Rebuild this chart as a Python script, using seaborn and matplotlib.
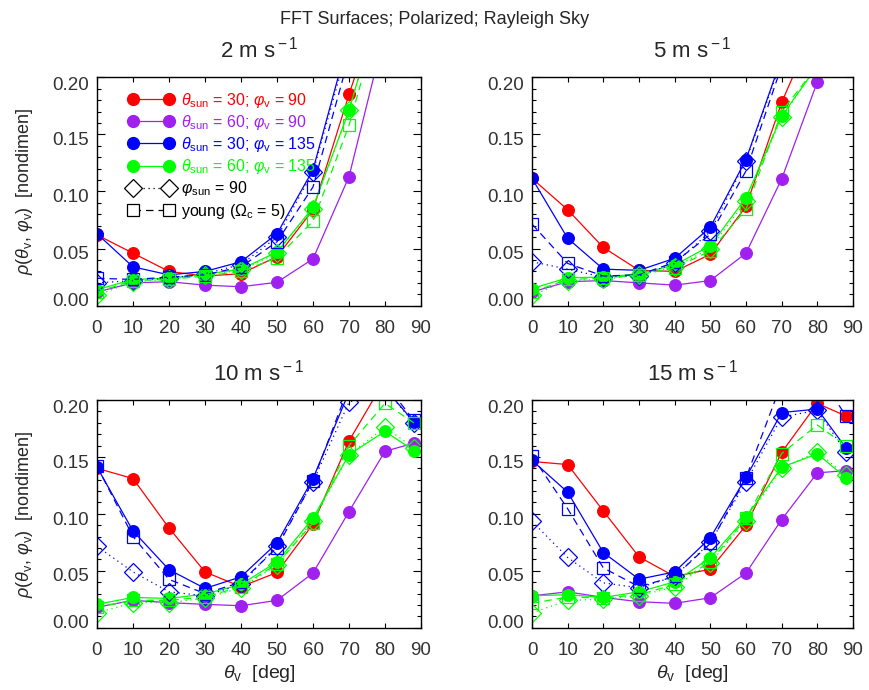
import numpy as np
import matplotlib
matplotlib.use("Agg")
import matplotlib.pyplot as plt
import matplotlib.transforms as mtransforms
from matplotlib.lines import Line2D
from matplotlib.ticker import MultipleLocator
import seaborn as sns

nan = np.nan

# viewing zenith angles (deg)
view_zenith = [0, 10, 20, 30, 40, 50, 60, 70, 80, 88]

# rho for each wind speed; keys: sun zenith / view azimuth cases and variants
rho_2ms = {
    "red":        [0.062, 0.046, 0.030, 0.026, 0.028, 0.043, 0.084, 0.185, 0.280, nan],
    "purple":     [0.012, 0.020, 0.021, 0.018, 0.0166, 0.0205, 0.041, 0.113, 0.240, nan],
    "blue":       [0.063, 0.034, 0.027, 0.030, 0.0385, 0.063, 0.119, 0.235, nan, nan],
    "green":      [0.014, 0.023, 0.024, 0.0275, 0.032, 0.047, 0.086, 0.171, 0.280, nan],
    "blue_sun90": [0.020, 0.022, 0.024, 0.028, 0.036, 0.060, 0.117, 0.230, nan, nan],
    "green_sun90": [0.009, 0.021, 0.023, 0.027, 0.031, 0.046, 0.085, 0.171, 0.280, nan],
    "blue_young": [0.024, 0.023, 0.025, 0.027, 0.034, 0.056, 0.104, 0.218, nan, nan],
    "green_young": [0.012, 0.022, 0.023, 0.026, 0.030, 0.042, 0.074, 0.158, 0.270, nan],
}
rho_5ms = {
    "red":        [0.1115, 0.084, 0.051, 0.031, 0.030, 0.045, 0.087, 0.178, 0.250, nan],
    "purple":     [0.012, 0.021, 0.022, 0.020, 0.018, 0.022, 0.046, 0.111, 0.196, nan],
    "blue":       [0.1115, 0.059, 0.032, 0.031, 0.0415, 0.0687, 0.128, 0.217, nan, nan],
    "green":      [0.015, 0.0245, 0.025, 0.028, 0.0356, 0.0525, 0.0946, 0.166, 0.210, nan],
    "blue_sun90": [0.0385, 0.032, 0.025, 0.026, 0.037, 0.065, 0.127, 0.215, nan, nan],
    "green_sun90": [0.009, 0.022, 0.023, 0.027, 0.034, 0.050, 0.092, 0.165, 0.210, nan],
    "blue_young": [0.0715, 0.037, 0.026, 0.027, 0.038, 0.0625, 0.118, 0.210, nan, nan],
    "green_young": [0.012, 0.023, 0.024, 0.027, 0.033, 0.048, 0.0844, 0.170, 0.210, nan],
}
rho_10ms = {
    "red":        [0.140, 0.131, 0.0876, 0.049, 0.036, 0.0485, 0.091, 0.164, 0.218, 0.230],
    "purple":     [0.018, 0.024, 0.022, 0.0205, 0.0193, 0.024, 0.048, 0.102, 0.155, 0.162],
    "blue":       [0.141, 0.085, 0.051, 0.0345, 0.0447, 0.0744, 0.131, 0.207, 0.210, 0.181],
    "green":      [0.0205, 0.0266, 0.0257, 0.0295, 0.038, 0.0578, 0.0963, 0.152, 0.1725, 0.1556],
    "blue_sun90": [0.0715, 0.049, 0.0315, 0.028, 0.038, 0.072, 0.128, 0.198, 0.210, 0.180],
    "green_sun90": [0.013, 0.022, 0.022, 0.026, 0.035, 0.055, 0.094, 0.152, 0.176, 0.158],
    "blue_young": [0.142, 0.080, 0.0424, 0.030, 0.040, 0.0704, 0.129, 0.212, 0.215, 0.182],
    "green_young": [0.018, 0.024, 0.024, 0.027, 0.036, 0.056, 0.092, 0.160, 0.197, 0.180],
}
rho_15ms = {
    "red":        [0.146, 0.1433, 0.1025, 0.0622, 0.045, 0.0514, 0.0899, 0.154, 0.197, 0.186],
    "purple":     [0.028, 0.0315, 0.0266, 0.0228, 0.0214, 0.0263, 0.048, 0.095, 0.136, 0.138],
    "blue":       [0.147, 0.119, 0.066, 0.0426, 0.049, 0.079, 0.132, 0.189, 0.192, 0.158],
    "green":      [0.028, 0.029, 0.0266, 0.0315, 0.0403, 0.0613, 0.097, 0.141, 0.1527, 0.1317],
    "blue_sun90": [0.0934, 0.0617, 0.0394, 0.035, 0.045, 0.075, 0.128, 0.185, 0.191, 0.154],
    "green_sun90": [0.013, 0.024, 0.025, 0.028, 0.036, 0.057, 0.094, 0.140, 0.1547, 0.1337],
    "blue_young": [0.151, 0.1045, 0.0525, 0.036, 0.045, 0.074, 0.1317, 0.215, 0.225, 0.186],
    "green_young": [0.0214, 0.027, 0.026, 0.029, 0.038, 0.058, 0.096, 0.153, 0.178, 0.160],
}

panel_titles = ["2 m s$^{\\rm -1}$", "5 m s$^{\\rm -1}$", "10 m s$^{\\rm -1}$", "15 m s$^{\\rm -1}$"]
panel_data = [rho_2ms, rho_5ms, rho_10ms, rho_15ms]

legend_labels = [
    "$\\theta_{\\rm sun}$ = 30; $\\varphi_{\\rm v}$ = 90",
    "$\\theta_{\\rm sun}$ = 60; $\\varphi_{\\rm v}$ = 90",
    "$\\theta_{\\rm sun}$ = 30; $\\varphi_{\\rm v}$ = 135",
    "$\\theta_{\\rm sun}$ = 60; $\\varphi_{\\rm v}$ = 135",
    "$\\varphi_{\\rm sun}$ = 90",
    "young ($\\Omega_{\\rm c}$ = 5)",
]

y_ticks = [0.00, 0.05, 0.10, 0.15, 0.20]
x_ticks = [0, 10, 20, 30, 40, 50, 60, 70, 80, 90]

sns.set_style("ticks")
plt.rcParams["font.family"] = ["Liberation Sans", "DejaVu Sans"]
plt.rcParams["mathtext.fontset"] = "custom"
plt.rcParams["mathtext.rm"] = "Liberation Sans"
plt.rcParams["mathtext.it"] = "Liberation Sans:italic"
plt.rcParams["mathtext.bf"] = "Liberation Sans:bold"

COLORS = {"red": "#ff0000", "purple": "#a020f0", "blue": "#0000ff", "green": "#00ff00"}
TICK_COLOR = "#333333"
DOTTED = (0, (1.0, 3.0))
DASHED = (0, (6.0, 4.0))

fig = plt.figure(figsize=(8.69, 6.9), dpi=100)
W, H = 869.0, 690.0
boxes = [
    (97, 77.3, 324, 228.4),
    (532, 77.3, 321, 228.4),
    (97, 400.0, 324, 227.7),
    (532, 400.0, 321, 227.7),
]
axes = [fig.add_axes([x / W, 1 - (y + h) / H, w / W, h / H]) for x, y, w, h in boxes]


def draw_series(ax, ys, color, marker, ls, filled):
    x = np.asarray(view_zenith, float)
    y = np.asarray(ys, float)
    ok = ~np.isnan(y)
    kw = dict(color=color, lw=0.9, linestyle=ls, marker=marker,
              markeredgecolor=color, clip_on=True)
    if filled:
        kw.update(markersize=8.5, markerfacecolor=color, markeredgewidth=0.8)
    else:
        kw.update(markersize=8.0 if marker == "s" else 9.0,
                  markerfacecolor="none", markeredgewidth=0.9)
    sns.lineplot(x=x[ok], y=y[ok], ax=ax, sort=False, estimator=None,
                 legend=False, **kw)


for i, (ax, data, title) in enumerate(zip(axes, panel_data, panel_titles)):
    for key in ["red", "purple", "blue", "green"]:
        draw_series(ax, data[key], COLORS[key], "o", "-", True)
    for key in ["blue", "green"]:
        draw_series(ax, data[key + "_sun90"], COLORS[key], "D", DOTTED, False)
    for key in ["blue", "green"]:
        draw_series(ax, data[key + "_young"], COLORS[key], "s", DASHED, False)

    ax.set_xlim(0, 90)
    ax.set_ylim(0, 0.20)
    ax.set_xticks(x_ticks)
    ax.set_xticklabels([str(t) for t in x_ticks])
    ax.set_yticks(y_ticks)
    ax.set_yticklabels([f"{t:.2f}" for t in y_ticks])
    ax.yaxis.set_minor_locator(MultipleLocator(0.01))
    ax.tick_params(axis="both", which="both", direction="in", top=True, right=True,
                   colors="black", labelcolor=TICK_COLOR, labelsize=13.5, width=0.8)
    ax.tick_params(axis="x", which="major", length=3.5, pad=10.5)
    ax.tick_params(axis="y", which="major", length=5.5, pad=6)
    ax.tick_params(axis="y", which="minor", length=3.0)
    for sp in ax.spines.values():
        sp.set_linewidth(1.0)
        sp.set_color("black")
    ax.set_xlabel("")
    ax.set_ylabel("")
    ax.set_title(title, fontsize=16, pad=14)

    ticks = ax.yaxis.get_major_ticks()
    shift = mtransforms.ScaledTranslation(0, -3 / 72.0, fig.dpi_scale_trans)
    for j, tk in enumerate(ticks):
        if j == 0:
            tk.label1.set_va("baseline")
        elif j == len(ticks) - 1:
            tk.label1.set_va("top")
        else:
            tk.label1.set_transform(tk.label1.get_transform() + shift)

    if i >= 2:
        ax.set_xlabel("$\\theta_{\\rm v}$  [deg]", fontsize=14, labelpad=3)
    if i % 2 == 0:
        cy = 1 - (boxes[i][1] + boxes[i][3] / 2) / H
        fig.text(25 / W, cy, "$\\rho(\\theta_{\\rm v}$, $\\varphi_{\\rm v})$  [nondimen]",
                 rotation=90, ha="center", va="center", fontsize=13)

handles = [
    Line2D([], [], color=COLORS["red"], marker="o", ms=8.5, lw=0.9),
    Line2D([], [], color=COLORS["purple"], marker="o", ms=8.5, lw=0.9),
    Line2D([], [], color=COLORS["blue"], marker="o", ms=8.5, lw=0.9),
    Line2D([], [], color=COLORS["green"], marker="o", ms=8.5, lw=0.9),
    Line2D([], [], color="black", marker="D", ms=9, lw=0.9, linestyle=DOTTED,
           markerfacecolor="white", markeredgewidth=0.9),
    Line2D([], [], color="black", marker="s", ms=8, lw=0.9, linestyle=DASHED,
           markerfacecolor="white", markeredgewidth=0.9),
]
leg = axes[0].legend(handles, legend_labels, loc="upper left",
                     bbox_to_anchor=(0.095, 0.942), frameon=False, numpoints=2,
                     handlelength=2.9, handletextpad=0.45, labelspacing=0.2,
                     borderpad=0.0, borderaxespad=0.0, fontsize=11.5)
text_colors = [COLORS["red"], COLORS["purple"], COLORS["blue"], COLORS["green"], "black", "black"]
for t, c in zip(leg.get_texts(), text_colors):
    t.set_color(c)

fig.text(0.5, 1 - 20 / H, "FFT Surfaces; Polarized; Rayleigh Sky", ha="center",
         va="center", fontsize=13)

fig.savefig("out.png", dpi=100)
